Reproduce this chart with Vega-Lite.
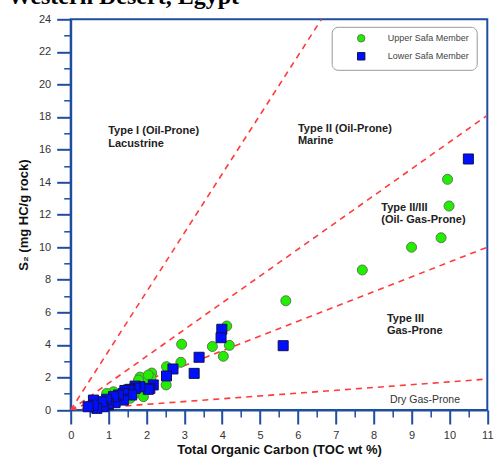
{
  "$schema": "https://vega.github.io/schema/vega-lite/v6.json",
  "width": 416.6,
  "height": 390.7,
  "autosize": {"type": "none"},
  "padding": {"left": 70.7, "top": 19.3, "right": 14.7, "bottom": 54},
  "background": "white",
  "title": {"text": "Western Desert, Egypt", "font": "Liberation Serif", "fontSize": 24, "fontWeight": "bold", "color": "black", "anchor": "start", "frame": "group", "dx": -63},
  "config": {
    "view": {"stroke": "#1f4ea1", "strokeWidth": 2},
    "axis": {"labelFont": "Liberation Sans", "labelFontSize": 11, "labelColor": "#333", "titleFont": "Liberation Sans", "titleFontSize": 13, "titleFontWeight": "bold", "titleColor": "#111", "domainColor": "#1f4ea1", "domainWidth": 2, "tickColor": "#1f4ea1", "grid": false},
    "legend": {"orient": "none", "legendX": 261, "legendY": 7.5, "strokeColor": "#999", "cornerRadius": 6, "padding": 7, "fillColor": "white", "symbolOffset": 18, "labelOffset": 22, "labelFontSize": 9, "labelColor": "#444", "labelFont": "Liberation Sans", "rowPadding": 5, "symbolSize": 55, "symbolStrokeWidth": 1}
  },
  "resolve": {"axis": {"x": "independent", "y": "independent"}},
  "datasets": {
    "lines": [
      {"id": "a", "TOC": 0, "S2": 0}, {"id": "a", "TOC": 6.62, "S2": 24},
      {"id": "b", "TOC": 0, "S2": 0}, {"id": "b", "TOC": 11, "S2": 18.1},
      {"id": "c", "TOC": 0, "S2": 0}, {"id": "c", "TOC": 11, "S2": 10.0},
      {"id": "d", "TOC": 0, "S2": 0}, {"id": "d", "TOC": 11, "S2": 1.9}
    ],
    "pts": [
      {"member": "Upper Safa Member", "TOC": 9.95, "S2": 14.17},
      {"member": "Upper Safa Member", "TOC": 9.99, "S2": 12.53},
      {"member": "Upper Safa Member", "TOC": 9.78, "S2": 10.58},
      {"member": "Upper Safa Member", "TOC": 9.0, "S2": 10.0},
      {"member": "Upper Safa Member", "TOC": 7.7, "S2": 8.6},
      {"member": "Upper Safa Member", "TOC": 5.68, "S2": 6.71},
      {"member": "Upper Safa Member", "TOC": 4.12, "S2": 5.16},
      {"member": "Upper Safa Member", "TOC": 4.19, "S2": 3.97},
      {"member": "Upper Safa Member", "TOC": 4.03, "S2": 3.3},
      {"member": "Upper Safa Member", "TOC": 3.74, "S2": 3.9},
      {"member": "Upper Safa Member", "TOC": 2.93, "S2": 4.04},
      {"member": "Upper Safa Member", "TOC": 2.91, "S2": 2.93},
      {"member": "Upper Safa Member", "TOC": 2.53, "S2": 2.66},
      {"member": "Upper Safa Member", "TOC": 2.52, "S2": 1.54},
      {"member": "Upper Safa Member", "TOC": 2.14, "S2": 2.27},
      {"member": "Upper Safa Member", "TOC": 2.12, "S2": 2.0},
      {"member": "Upper Safa Member", "TOC": 1.83, "S2": 2.02},
      {"member": "Upper Safa Member", "TOC": 2.0, "S2": 1.74},
      {"member": "Upper Safa Member", "TOC": 1.79, "S2": 1.84},
      {"member": "Upper Safa Member", "TOC": 2.05, "S2": 2.15},
      {"member": "Upper Safa Member", "TOC": 1.57, "S2": 0.72},
      {"member": "Upper Safa Member", "TOC": 1.7, "S2": 1.02},
      {"member": "Upper Safa Member", "TOC": 1.92, "S2": 0.82},
      {"member": "Upper Safa Member", "TOC": 1.13, "S2": 1.12},
      {"member": "Upper Safa Member", "TOC": 0.95, "S2": 1.02},
      {"member": "Upper Safa Member", "TOC": 0.7, "S2": 0.5},
      {"member": "Upper Safa Member", "TOC": 0.55, "S2": 0.35},
      {"member": "Lower Safa Member", "TOC": 10.5, "S2": 15.42},
      {"member": "Lower Safa Member", "TOC": 5.61, "S2": 3.95},
      {"member": "Lower Safa Member", "TOC": 3.99, "S2": 4.96},
      {"member": "Lower Safa Member", "TOC": 3.97, "S2": 4.44},
      {"member": "Lower Safa Member", "TOC": 3.39, "S2": 3.24},
      {"member": "Lower Safa Member", "TOC": 3.26, "S2": 2.25},
      {"member": "Lower Safa Member", "TOC": 2.7, "S2": 2.52},
      {"member": "Lower Safa Member", "TOC": 2.53, "S2": 2.09},
      {"member": "Lower Safa Member", "TOC": 2.18, "S2": 1.54},
      {"member": "Lower Safa Member", "TOC": 2.09, "S2": 1.33},
      {"member": "Lower Safa Member", "TOC": 2.05, "S2": 1.27},
      {"member": "Lower Safa Member", "TOC": 1.83, "S2": 1.43},
      {"member": "Lower Safa Member", "TOC": 1.7, "S2": 1.47},
      {"member": "Lower Safa Member", "TOC": 1.7, "S2": 1.33},
      {"member": "Lower Safa Member", "TOC": 1.57, "S2": 1.27},
      {"member": "Lower Safa Member", "TOC": 1.52, "S2": 1.23},
      {"member": "Lower Safa Member", "TOC": 1.43, "S2": 1.2},
      {"member": "Lower Safa Member", "TOC": 1.61, "S2": 0.92},
      {"member": "Lower Safa Member", "TOC": 1.39, "S2": 1.02},
      {"member": "Lower Safa Member", "TOC": 1.35, "S2": 0.66},
      {"member": "Lower Safa Member", "TOC": 1.39, "S2": 0.61},
      {"member": "Lower Safa Member", "TOC": 1.26, "S2": 0.92},
      {"member": "Lower Safa Member", "TOC": 1.17, "S2": 0.45},
      {"member": "Lower Safa Member", "TOC": 1.13, "S2": 0.82},
      {"member": "Lower Safa Member", "TOC": 0.99, "S2": 0.31},
      {"member": "Lower Safa Member", "TOC": 0.99, "S2": 0.41},
      {"member": "Lower Safa Member", "TOC": 0.95, "S2": 0.66},
      {"member": "Lower Safa Member", "TOC": 0.86, "S2": 0.2},
      {"member": "Lower Safa Member", "TOC": 0.82, "S2": 0.51},
      {"member": "Lower Safa Member", "TOC": 0.69, "S2": 0.1},
      {"member": "Lower Safa Member", "TOC": 0.6, "S2": 0.61},
      {"member": "Lower Safa Member", "TOC": 0.6, "S2": 0.3},
      {"member": "Lower Safa Member", "TOC": 0.46, "S2": 0.2}
    ],
    "boldlabels": [
      {"TOC": 0.99, "S2": 17.5, "txt": "Type I (Oil-Prone)\nLacustrine"},
      {"TOC": 6.0, "S2": 17.63, "txt": "Type II (Oil-Prone)\nMarine"},
      {"TOC": 8.2, "S2": 12.78, "txt": "Type II/III\n(Oil- Gas-Prone)"},
      {"TOC": 8.35, "S2": 5.96, "txt": "Type III\nGas-Prone"}
    ],
    "plainlabels": [
      {"TOC": 8.43, "S2": 0.61, "txt": "Dry Gas-Prone"}
    ]
  },
  "layer": [
    {
      "data": {"name": "lines"},
      "mark": {"type": "line", "color": "#ff3b3b", "strokeWidth": 1.6, "strokeDash": [6, 5], "clip": true},
      "encoding": {
        "x": {"field": "TOC", "type": "quantitative", "scale": {"domain": [0, 11], "nice": false},
          "axis": {"orient": "bottom", "title": null, "values": [0.5,1.5,2.5,3.5,4.5,5.5,6.5,7.5,8.5,9.5,10.5], "labels": false, "tickSize": 7, "tickWidth": 1.5, "domain": false}},
        "y": {"field": "S2", "type": "quantitative", "scale": {"domain": [0, 24], "nice": false},
          "axis": {"orient": "left", "title": null, "values": [1,3,5,7,9,11,13,15,17,19,21,23], "labels": false, "tickSize": 7, "tickWidth": 1.5, "domain": false}},
        "detail": {"field": "id"}
      }
    },
    {
      "data": {"name": "pts"},
      "mark": {"type": "point", "filled": false, "size": 100, "strokeWidth": 1, "opacity": 1},
      "encoding": {
        "x": {"field": "TOC", "type": "quantitative",
          "axis": {"orient": "bottom", "title": "Total Organic Carbon (TOC wt %)", "values": [0,1,2,3,4,5,6,7,8,9,10,11], "format": "d", "tickSize": 14, "tickWidth": 2, "labelPadding": 5, "titlePadding": 3, "labelFlush": false}},
        "y": {"field": "S2", "type": "quantitative",
          "axis": {"orient": "left", "title": "S₂ (mg HC/g rock)", "values": [0,2,4,6,8,10,12,14,16,18,20,22,24], "format": "d", "tickSize": 14, "tickWidth": 2, "labelPadding": 6, "titlePadding": 8, "labelFlush": false}},
        "fill": {"field": "member", "type": "nominal", "sort": null, "scale": {"domain": ["Upper Safa Member", "Lower Safa Member"], "range": ["#22ee00", "#0010ff"]}, "legend": {"title": null}},
        "stroke": {"field": "member", "type": "nominal", "sort": null, "scale": {"domain": ["Upper Safa Member", "Lower Safa Member"], "range": ["#5b7a55", "#101050"]}, "legend": {"title": null}},
        "shape": {"field": "member", "type": "nominal", "sort": null, "scale": {"domain": ["Upper Safa Member", "Lower Safa Member"], "range": ["circle", "square"]}, "legend": {"title": null}}
      }
    },
    {
      "data": {"name": "boldlabels"},
      "mark": {"type": "text", "align": "left", "baseline": "top", "font": "Liberation Sans", "fontSize": 11, "fontWeight": "bold", "color": "#222", "lineBreak": "\n", "lineHeight": 12.5},
      "encoding": {
        "x": {"field": "TOC", "type": "quantitative", "axis": null},
        "y": {"field": "S2", "type": "quantitative", "axis": null},
        "text": {"field": "txt"}
      }
    },
    {
      "data": {"name": "plainlabels"},
      "mark": {"type": "text", "align": "left", "baseline": "middle", "font": "Liberation Sans", "fontSize": 10.5, "color": "#333"},
      "encoding": {
        "x": {"field": "TOC", "type": "quantitative", "axis": null},
        "y": {"field": "S2", "type": "quantitative", "axis": null},
        "text": {"field": "txt"}
      }
    }
  ]
}
